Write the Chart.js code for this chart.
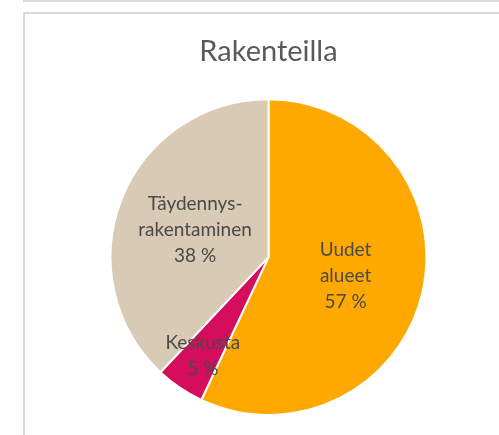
<!DOCTYPE html>
<html>
<head>
<meta charset="utf-8">
<script src="https://cdn.jsdelivr.net/npm/chart.js@4.4.1/dist/chart.umd.min.js"></script>
<style>
  html, body { margin: 0; padding: 0; background: #fff; overflow: hidden; width: 499px; height: 435px; }
  .prev { position: absolute; left: 23px; top: -30px; width: 600px; height: 32px; border: 2px solid #dadada; box-sizing: border-box; }
  .box { position: absolute; left: 23px; top: 12px; width: 600px; height: 600px; border: 2px solid #dadada; box-sizing: border-box; }
  #wrap { position: absolute; left: 25px; top: 14px; width: 487px; height: 421px; }
</style>
</head>
<body>
<div class="prev"></div>
<div class="box"></div>
<div id="wrap"><canvas id="c"></canvas></div>
<script>
const titleText = 'Rakenteilla';
const categories = ['Uudet alueet', 'Keskusta', 'Täydennysrakentaminen'];
const values = [57, 5, 38];
const labelLines = [['Uudet', 'alueet'], ['Keskusta'], ['Täydennys-', 'rakentaminen']];
const sliceColors = ['#FFA800', '#D40E5C', '#D8CAB4'];
const labelRadius = [0.5, 0.74, 0.5];

const FONT = 'Lato, "Open Sans", sans-serif';

const labelPlugin = {
  id: 'sliceLabels',
  afterDatasetsDraw(chart) {
    const ctx = chart.ctx;
    const meta = chart.getDatasetMeta(0);
    ctx.save();
    ctx.font = '19px ' + FONT;
    ctx.fillStyle = '#4a4a4a';
    ctx.textAlign = 'center';
    ctx.textBaseline = 'middle';
    const lh = 26;
    meta.data.forEach((arc, i) => {
      const p = arc.getProps(['x', 'y', 'startAngle', 'endAngle', 'outerRadius'], true);
      const mid = (p.startAngle + p.endAngle) / 2;
      const r = p.outerRadius * labelRadius[i];
      const cx = p.x + Math.cos(mid) * r;
      const cy = p.y + Math.sin(mid) * r + 2;
      const lines = labelLines[i].concat([values[i] + ' %']);
      const y0 = cy - (lines.length - 1) * lh / 2;
      lines.forEach((t, k) => ctx.fillText(t, cx, y0 + k * lh));
    });
    ctx.restore();
  }
};

new Chart(document.getElementById('c'), {
  type: 'pie',
  data: {
    labels: categories,
    datasets: [{
      data: values,
      backgroundColor: sliceColors,
      borderColor: '#ffffff',
      borderWidth: 2
    }]
  },
  options: {
    responsive: true,
    maintainAspectRatio: false,
    animation: false,
    layout: { padding: { top: 0, bottom: 19, left: 0, right: 0 } },
    plugins: {
      legend: { display: false },
      tooltip: { enabled: false },
      title: {
        display: true,
        text: titleText,
        color: '#595959',
        font: { family: FONT, size: 29, weight: 'normal' },
        padding: { top: 20.2, bottom: 29.2 }
      }
    }
  },
  plugins: [labelPlugin]
});
</script>
</body>
</html>
